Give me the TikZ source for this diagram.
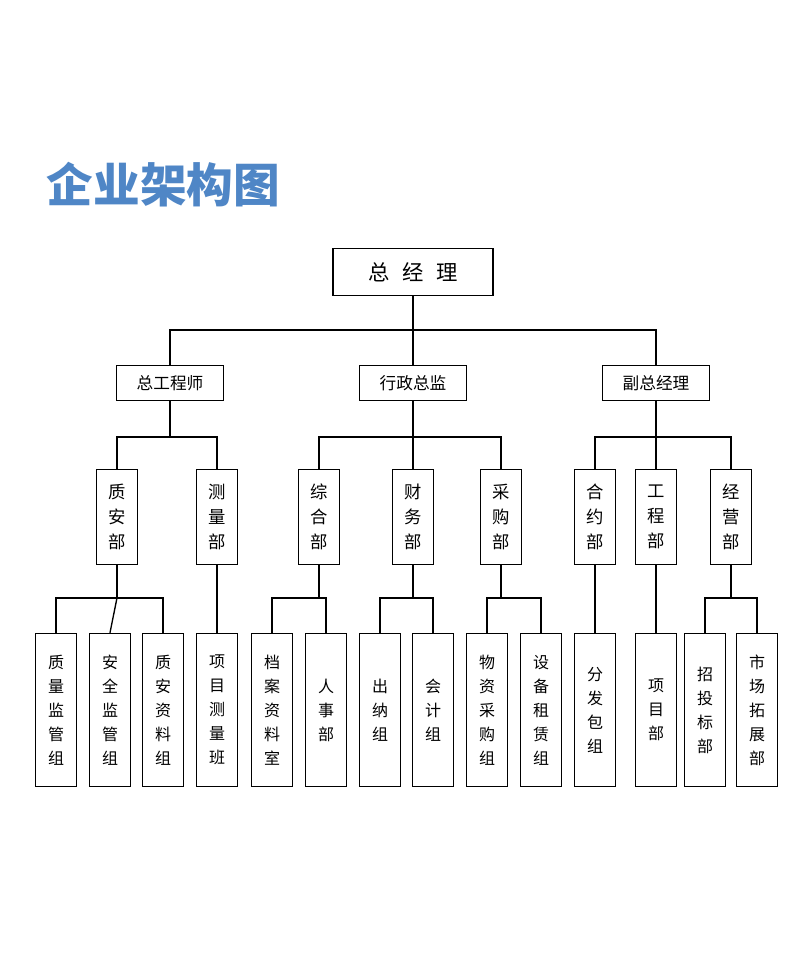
\documentclass[tikz,border=0pt]{standalone}
\usepackage{fontspec}
\setmainfont{Noto Sans CJK SC}
\definecolor{titleBlue}{HTML}{4F86C6}
\begin{document}
\begin{tikzpicture}[x=0.75pt, y=-0.75pt,
    topStyle/.style={rectangle, draw, line width=0.8pt, minimum width=120pt, minimum height=35pt, font=\fontsize{16}{18}\selectfont},
    midStyle/.style={rectangle, draw, line width=0.8pt, minimum width=80pt, minimum height=26pt, font=\fontsize{12.5}{14}\selectfont},
    depStyle/.style={rectangle, draw, line width=0.8pt, minimum width=31pt, minimum height=71pt, align=center, font=\fontsize{13}{19}\selectfont},
    grpStyle/.style={rectangle, draw, line width=0.8pt, minimum width=31pt, minimum height=115pt, align=center, font=\fontsize{12}{18}\selectfont},
    lineStyle/.style={line width=1pt}]
    \useasboundingbox (0,0) rectangle (811,959);
    \node[anchor=west, font=\fontsize{35}{38}\selectfont\bfseries, text=titleBlue] (title) at (42,185) {企业架构图};

    \node[topStyle] (root) at (413,272) {总\hspace{0.6em}经\hspace{0.6em}理};

    \node[midStyle] (m1) at (170,383) {总工程师};
    \node[midStyle] (m2) at (413,383) {行政总监};
    \node[midStyle] (m3) at (656,383) {副总经理};

    \node[depStyle] (d1) at (117,517) {质\\安\\部};
    \node[depStyle] (d2) at (217,517) {测\\量\\部};
    \node[depStyle] (d3) at (319,517) {综\\合\\部};
    \node[depStyle] (d4) at (413,517) {财\\务\\部};
    \node[depStyle] (d5) at (501,517) {采\\购\\部};
    \node[depStyle] (d6) at (595,517) {合\\约\\部};
    \node[depStyle] (d7) at (656,517) {工\\程\\部};
    \node[depStyle] (d8) at (731,517) {经\\营\\部};

    \node[grpStyle] (g1)  at (56,710)  {质\\量\\监\\管\\组};
    \node[grpStyle] (g2)  at (110,710) {安\\全\\监\\管\\组};
    \node[grpStyle] (g3)  at (163,710) {质\\安\\资\\料\\组};
    \node[grpStyle] (g4)  at (217,710) {项\\目\\测\\量\\班};
    \node[grpStyle] (g5)  at (272,710) {档\\案\\资\\料\\室};
    \node[grpStyle] (g6)  at (326,710) {人\\事\\部};
    \node[grpStyle] (g7)  at (380,710) {出\\纳\\组};
    \node[grpStyle] (g8)  at (433,710) {会\\计\\组};
    \node[grpStyle] (g9)  at (487,710) {物\\资\\采\\购\\组};
    \node[grpStyle] (g10) at (541,710) {设\\备\\租\\赁\\组};
    \node[grpStyle] (g11) at (595,710) {分\\发\\包\\组};
    \node[grpStyle] (g12) at (656,710) {项\\目\\部};
    \node[grpStyle] (g13) at (705,710) {招\\投\\标\\部};
    \node[grpStyle] (g14) at (757,710) {市\\场\\拓\\展\\部};

    % level 1 -> level 2
    \draw[lineStyle] (root.south) -- ++(0,34) coordinate (b0);
    \draw[lineStyle] (m1.north) |- (b0) -| (m3.north);
    \draw[lineStyle] (b0) -- (m2.north);

    % level 2 -> level 3
    \draw[lineStyle] (m1.south) -- ++(0,36) coordinate (b1);
    \draw[lineStyle] (d1.north) |- (b1) -| (d2.north);
    \draw[lineStyle] (m2.south) -- ++(0,36) coordinate (b2);
    \draw[lineStyle] (d3.north) |- (b2) -| (d5.north);
    \draw[lineStyle] (b2) -- (d4.north);
    \draw[lineStyle] (m3.south) -- ++(0,36) coordinate (b3);
    \draw[lineStyle] (d6.north) |- (b3) -| (d8.north);
    \draw[lineStyle] (b3) -- (d7.north);

    % level 3 -> level 4
    \draw[lineStyle] (d1.south) -- ++(0,33) coordinate (c1);
    \draw[lineStyle] (g1.north) |- (c1) -| (g3.north);
    \draw[lineStyle] (c1) -- (g2.north);
    \draw[lineStyle] (d2.south) -- (g4.north);
    \draw[lineStyle] (d3.south) -- ++(0,33) coordinate (c3);
    \draw[lineStyle] (g5.north) |- (c3) -| (g6.north);
    \draw[lineStyle] (d4.south) -- ++(0,33) coordinate (c4);
    \draw[lineStyle] (g7.north) |- (c4) -| (g8.north);
    \draw[lineStyle] (d5.south) -- ++(0,33) coordinate (c5);
    \draw[lineStyle] (g9.north) |- (c5) -| (g10.north);
    \draw[lineStyle] (d6.south) -- (g11.north);
    \draw[lineStyle] (d7.south) -- (g12.north);
    \draw[lineStyle] (d8.south) -- ++(0,33) coordinate (c8);
    \draw[lineStyle] (g13.north) |- (c8) -| (g14.north);
\end{tikzpicture}
\end{document}
